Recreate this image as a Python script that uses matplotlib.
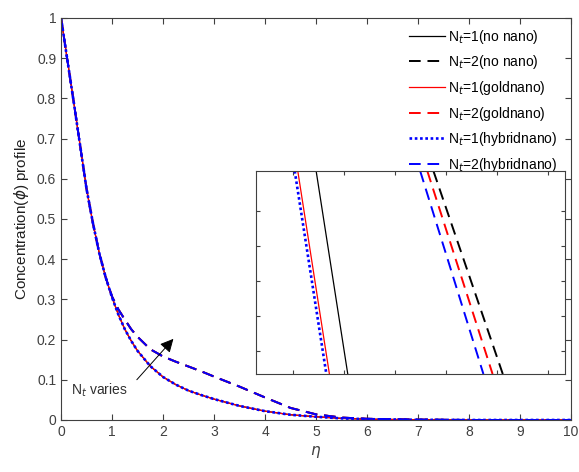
# Concentration profile for different Nt (no nano / goldnano / hybridnano)
import numpy as np
import matplotlib
matplotlib.use("Agg")
import matplotlib.pyplot as plt

plt.rcParams['font.family'] = ['Liberation Sans', 'DejaVu Sans']
plt.rcParams['mathtext.fontset'] = 'dejavusans'

# Data
eta = [0, 0.25, 0.5, 0.625, 0.75, 0.875, 1.0, 1.125, 1.25, 1.375, 1.5, 1.75, 2.0, 2.25,
       2.5, 2.75, 3.0, 3.5, 4.0, 4.5, 5.0, 5.5, 6.0, 7.0, 8.0, 9.0, 10.0]
phi_nt1 = [1.0, 0.79, 0.575, 0.49, 0.415, 0.355, 0.305, 0.262, 0.226, 0.197, 0.172, 0.134, 0.107, 0.088,
           0.073, 0.062, 0.052, 0.035, 0.022, 0.013, 0.008, 0.004, 0.002, 0.0005, 0, 0, 0]
phi_nt2 = [1.0, 0.79, 0.575, 0.49, 0.415, 0.355, 0.307, 0.275, 0.25, 0.226, 0.207, 0.176, 0.158, 0.145,
           0.133, 0.121, 0.108, 0.083, 0.056, 0.03, 0.014, 0.006, 0.003, 0.001, 0, 0, 0]

labels = ['N$_t$=1(no nano)', 'N$_t$=2(no nano)',
          'N$_t$=1(goldnano)', 'N$_t$=2(goldnano)',
          'N$_t$=1(hybridnano)', 'N$_t$=2(hybridnano)']

# zoomed-in view (inset): eta at top and bottom of the inset window
inset_phi = [0.323, 0.207]
inset_nonano_1 = [1.123, 1.154]
inset_nonano_2 = [1.238, 1.306]
inset_gold_1 = [1.105, 1.136]
inset_gold_2 = [1.232, 1.296]
inset_hybrid_1 = [1.102, 1.133]
inset_hybrid_2 = [1.225, 1.287]

styles = [dict(color='k', ls='-', lw=0.9),
          dict(color='k', ls=(0, (6, 3.5)), lw=1.4),
          dict(color='red', ls='-', lw=0.9),
          dict(color='red', ls=(0, (6, 3.5)), lw=1.4),
          dict(color='blue', ls=(0, (1, 1)), lw=1.9),
          dict(color='blue', ls=(0, (6, 3.5)), lw=1.4)]

fig = plt.figure(figsize=(5.79, 4.72), dpi=100)
ax = fig.add_axes([0.1054, 0.1102, 0.8808, 0.8517])

main_series = [phi_nt1, phi_nt2, phi_nt1, phi_nt2, phi_nt1, phi_nt2]
for ys, st, lab in zip(main_series, styles, labels):
    ax.plot(eta, ys, label=lab, **st)

ax.set_xlim(0, 10)
ax.set_ylim(0, 1)
ax.set_xticks(range(0, 11))
ax.set_yticks(np.arange(0, 1.01, 0.1))
ax.set_yticklabels(['0', '0.1', '0.2', '0.3', '0.4', '0.5', '0.6', '0.7', '0.8', '0.9', '1'])
ax.tick_params(direction='in', top=True, right=True, labelsize=10, colors='#404040', length=4)
for s in ax.spines.values():
    s.set_color('#404040')
    s.set_linewidth(0.8)
ax.set_xlabel(r'$\eta$', fontsize=11, color='#404040')
ax.set_ylabel(r'Concentration($\phi$) profile', fontsize=11, color='#202020')

ax.legend(loc='upper right', frameon=False, fontsize=10, handlelength=2.6,
          handletextpad=0.2, labelspacing=0.55, borderaxespad=0.3,
          bbox_to_anchor=(0.992, 1.0))

ax.annotate('', xy=(2.24, 0.207), xytext=(1.45, 0.095),
            arrowprops=dict(arrowstyle='-|>', color='k', lw=0.7, mutation_scale=20))
ax.text(0.2, 0.075, 'N$_t$ varies', fontsize=10, color='#303030', va='center')

# inset
axin = fig.add_axes([0.4421, 0.2076, 0.5337, 0.4301])
inset_series = [inset_nonano_1, inset_nonano_2, inset_gold_1, inset_gold_2, inset_hybrid_1, inset_hybrid_2]
for xs, st in zip(inset_series, styles):
    axin.plot(xs, inset_phi, **st)
axin.set_xlim(1.064, 1.367)
axin.set_ylim(0.207, 0.323)
axin.set_xticks(np.arange(1.10, 1.36, 0.05))
axin.set_yticks(np.arange(0.22, 0.31, 0.02))
axin.tick_params(direction='in', top=True, right=True, labelbottom=False, labelleft=False,
                 length=3, colors='#404040')
for s in axin.spines.values():
    s.set_color('#404040')
    s.set_linewidth(0.8)

fig.savefig('out.png', dpi=100)
